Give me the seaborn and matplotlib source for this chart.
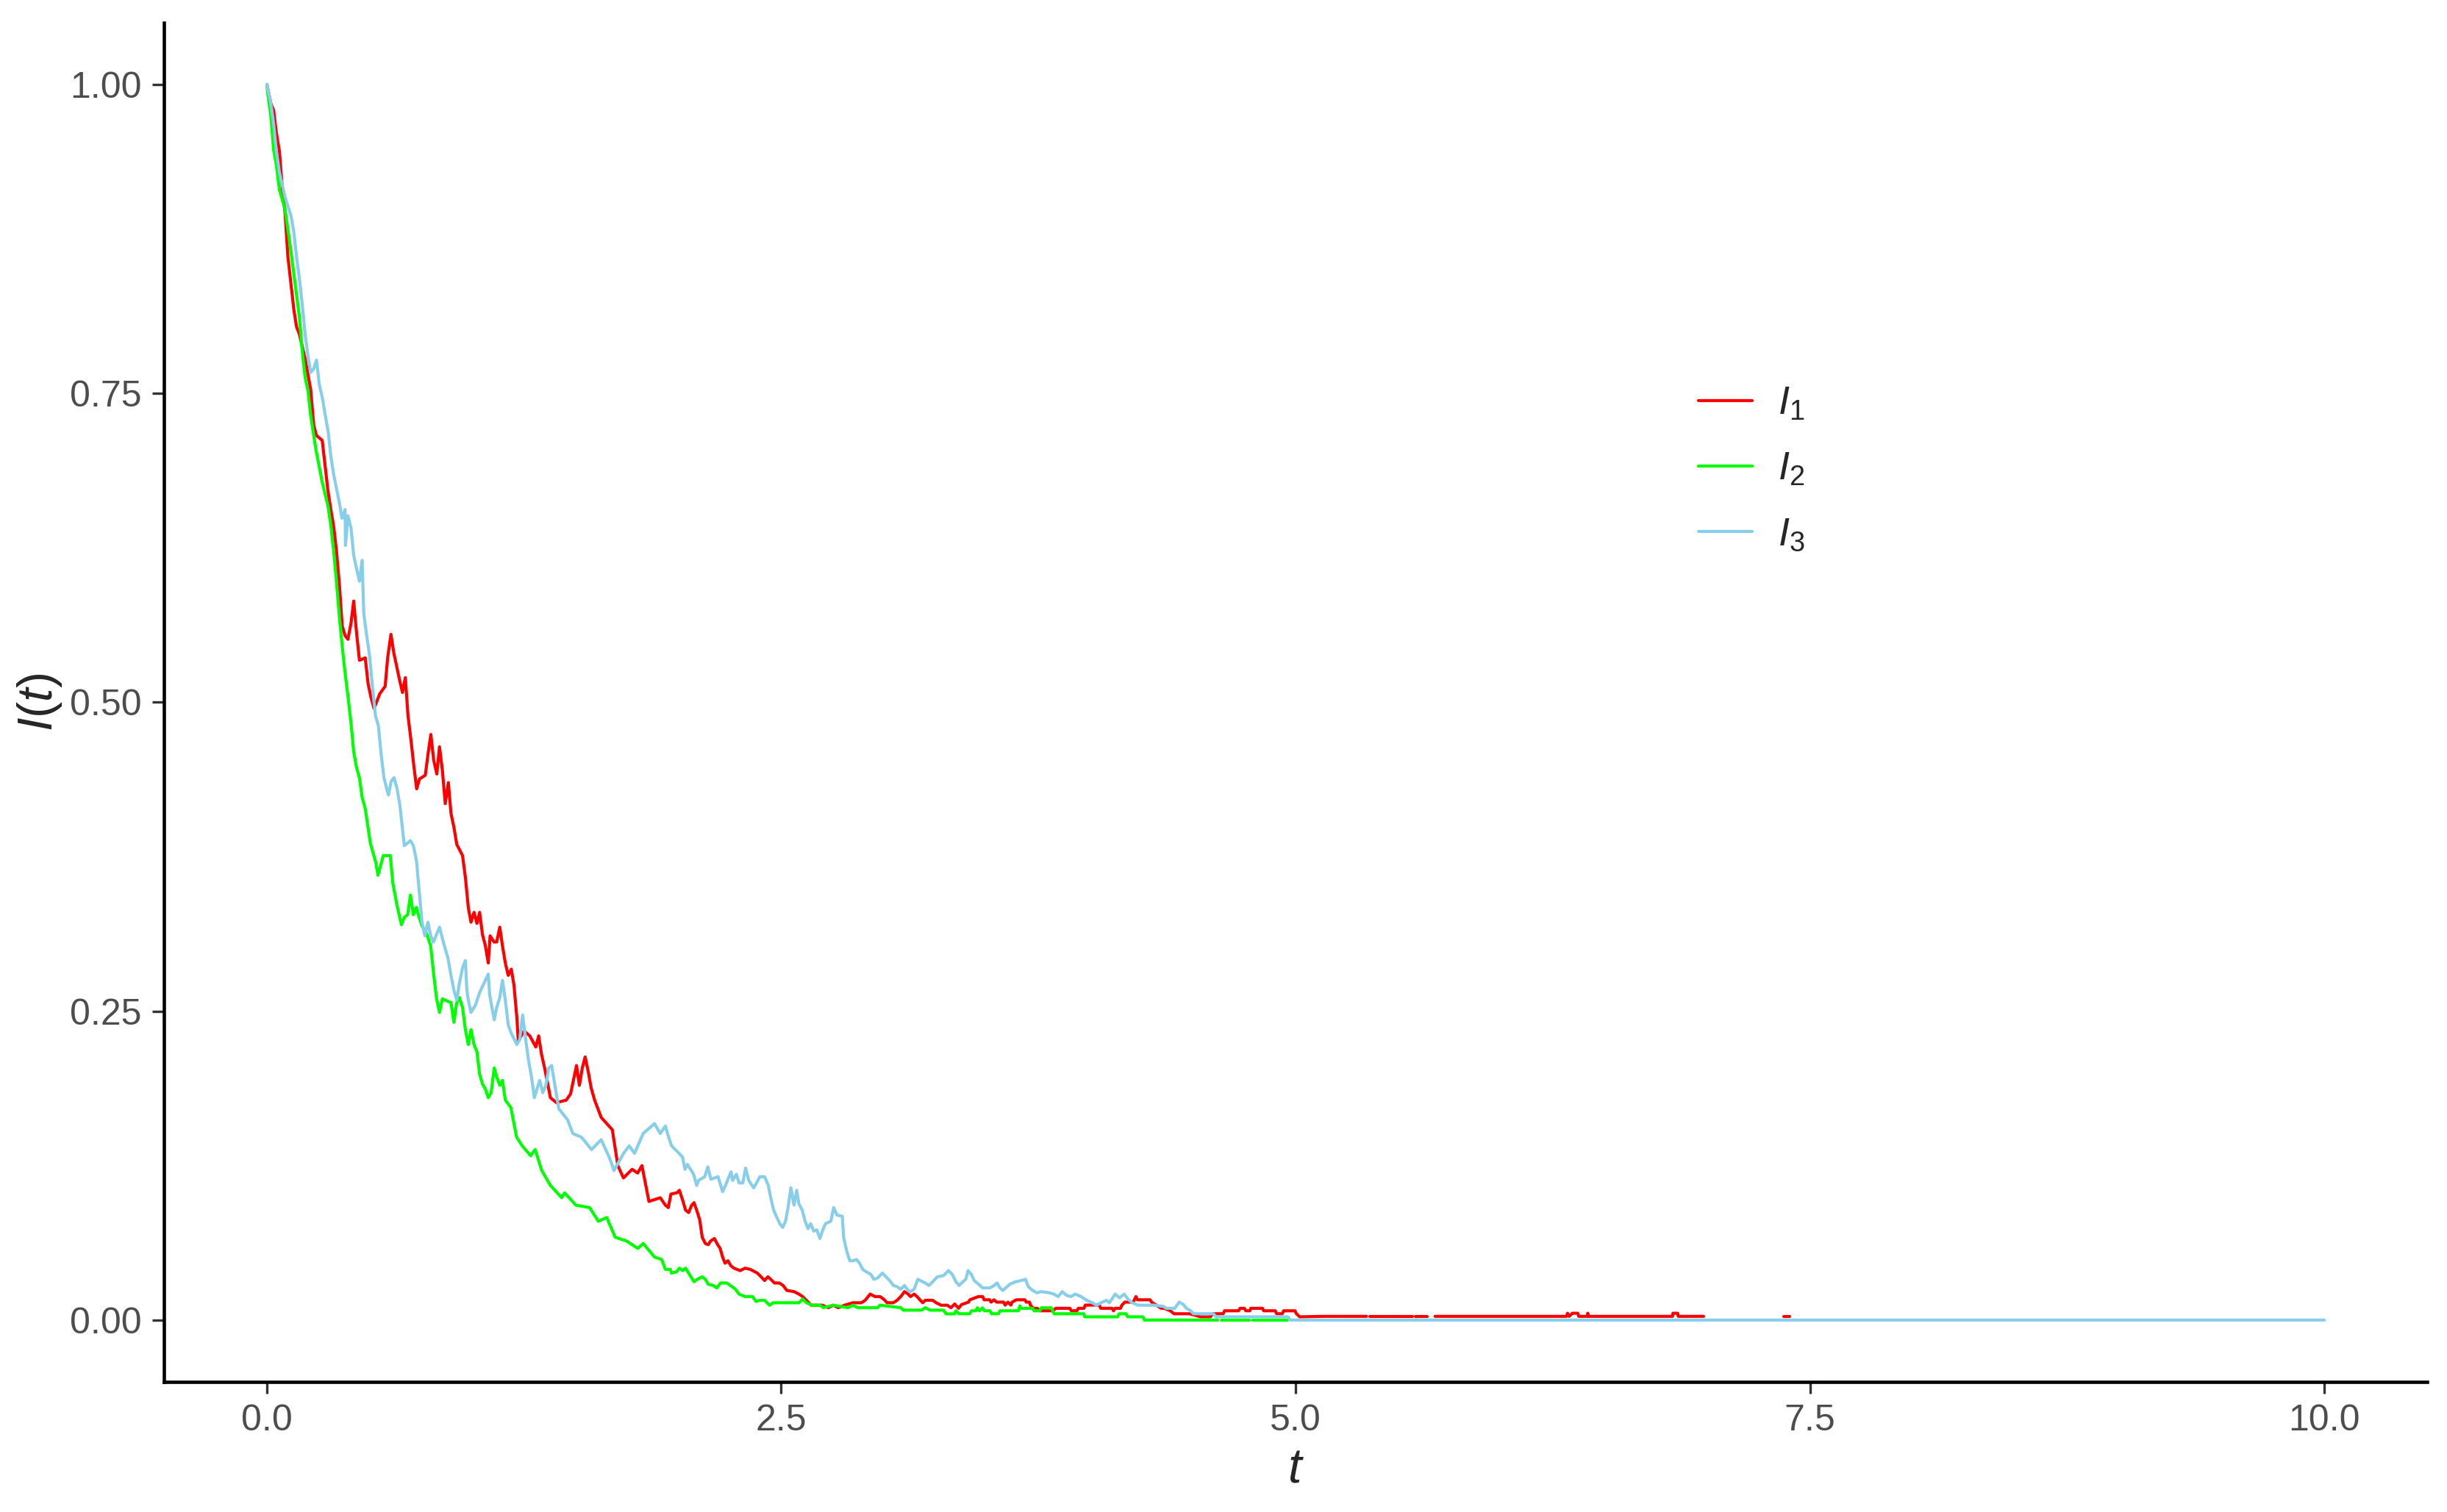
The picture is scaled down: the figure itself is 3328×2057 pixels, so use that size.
import numpy as np
import pandas as pd
import matplotlib
matplotlib.use("Agg")
import matplotlib.pyplot as plt
import seaborn as sns

# values (NaN = gap in the drawn line)
t_red = [0.000, 0.019, 0.033, 0.046, 0.061, 0.075, 0.088, 0.102, 0.117, 0.131, 0.144, 0.158, 0.186, 0.213,
         0.228, 0.241, 0.269, 0.282, 0.297, 0.311, 0.325, 0.338, 0.353, 0.366, 0.380, 0.394, 0.409, 0.422,
         0.436, 0.450, 0.478, 0.492, 0.506, 0.521, 0.549, 0.575, 0.587, 0.603, 0.617, 0.631, 0.645, 0.659,
         0.673, 0.686, 0.700, 0.714, 0.728, 0.742, 0.770, 0.784, 0.797, 0.811, 0.826, 0.839, 0.853, 0.867,
         0.882, 0.895, 0.909, 0.923, 0.951, 0.965, 0.979, 0.992, 1.007, 1.021, 1.034, 1.048, 1.062, 1.076,
         1.085, 1.104, 1.117, 1.132, 1.145, 1.159, 1.173, 1.188, 1.201, 1.215, 1.222, 1.250, 1.278, 1.307,
         1.321, 1.335, 1.350, 1.364, 1.378, 1.407, 1.455, 1.476, 1.490, 1.505, 1.519, 1.533, 1.547, 1.562,
         1.576, 1.593, 1.625, 1.679, 1.706, 1.733, 1.775, 1.802, 1.823, 1.857, 1.912, 1.937, 1.951, 1.964,
         1.993, 2.005, 2.021, 2.035, 2.050, 2.065, 2.076, 2.089, 2.104, 2.116, 2.131, 2.145, 2.157, 2.175,
         2.191, 2.203, 2.215, 2.227, 2.241, 2.255, 2.270, 2.300, 2.324, 2.350, 2.384, 2.402, 2.419, 2.435,
         2.449, 2.467, 2.491, 2.509, 2.527, 2.562, 2.586, 2.604, 2.622, 2.646, 2.700, 2.729, 2.753, 2.777,
         2.807, 2.848, 2.890, 2.908, 2.932, 2.956, 2.980, 2.997, 3.015, 3.045, 3.063, 3.081, 3.099, 3.117,
         3.128, 3.146, 3.160, 3.176, 3.188, 3.200, 3.236, 3.253, 3.277, 3.307, 3.325, 3.343, 3.362, 3.376,
         3.410, 3.417, 3.458, 3.479, 3.486, 3.513, 3.520, 3.534, 3.547, 3.581, 3.588, 3.602, 3.616, 3.622,
         3.643, 3.684, 3.691, 3.707, 3.711, 3.725, 3.745, 3.759, 3.800, 3.821, 3.834, 3.903, 3.910, 3.937,
         3.944, 3.971, 3.978, 4.046, 4.053, 4.108, 4.115, 4.122, 4.149, 4.156, 4.170, 4.211, 4.224, 4.231,
         4.293, 4.300, 4.347, 4.361, 4.391, 4.409, 4.484, 4.538, 4.586, 4.596, 4.648, 4.655, 4.723, 4.730,
         4.751, 4.758, 4.778, 4.782, 4.839, 4.845, 4.901, 4.908, 4.935, 4.942, 4.997, 5.004, 5.020, 5.136,
         5.345, 5.350, 5.361, 5.567, 5.575, 5.582, 5.638, 5.660, 5.678, 6.316, 6.322, 6.330, 6.345, 6.372,
         6.376, 6.418, 6.420, 6.424, 6.832, 6.834, 6.857, 6.860, 6.983, 7.200, 7.374, 7.401]
i_red = [1.000, 0.985, 0.979, 0.961, 0.946, 0.916, 0.897, 0.861, 0.839, 0.818, 0.804, 0.798, 0.778, 0.753,
         0.724, 0.716, 0.712, 0.693, 0.671, 0.656, 0.642, 0.623, 0.594, 0.562, 0.554, 0.551, 0.564, 0.582,
         0.556, 0.534, 0.536, 0.515, 0.504, 0.495, 0.507, 0.513, 0.536, 0.555, 0.540, 0.529, 0.518, 0.508,
         0.520, 0.489, 0.470, 0.449, 0.430, 0.438, 0.441, 0.459, 0.474, 0.453, 0.442, 0.464, 0.445, 0.418,
         0.435, 0.410, 0.399, 0.385, 0.376, 0.358, 0.334, 0.322, 0.330, 0.321, 0.330, 0.312, 0.303, 0.289,
         0.311, 0.306, 0.306, 0.318, 0.303, 0.289, 0.279, 0.284, 0.271, 0.245, 0.226, 0.234, 0.230, 0.221,
         0.230, 0.215, 0.204, 0.192, 0.180, 0.176, 0.178, 0.183, 0.194, 0.206, 0.190, 0.204, 0.213, 0.201,
         0.188, 0.178, 0.164, 0.154, 0.125, 0.115, 0.122, 0.119, 0.125, 0.096, 0.099, 0.093, 0.091, 0.102,
         0.103, 0.105, 0.097, 0.089, 0.087, 0.093, 0.095, 0.089, 0.081, 0.067, 0.062, 0.061, 0.064, 0.066,
         0.061, 0.058, 0.051, 0.046, 0.048, 0.044, 0.042, 0.040, 0.042, 0.041, 0.038, 0.035, 0.032, 0.035,
         0.033, 0.030, 0.030, 0.028, 0.024, 0.023, 0.021, 0.019, 0.016, 0.012, 0.012, 0.010, 0.012, 0.010,
         0.012, 0.014, 0.014, 0.016, 0.021, 0.019, 0.019, 0.017, 0.014, 0.014, 0.016, 0.019, 0.023, 0.021,
         0.019, 0.021, 0.019, 0.016, 0.014, 0.016, 0.016, 0.014, 0.012, 0.012, 0.010, 0.013, 0.0095, 0.0125,
         0.0145, 0.0164, 0.019, 0.019, 0.0164, 0.0164, 0.0145, 0.0164, 0.0145, 0.0145, 0.0121, 0.0145, 0.0121, 0.0145,
         0.0164, 0.0164, 0.0145, 0.0145, 0.0121, 0.0095, 0.0095, 0.0075, 0.0075, 0.0075, 0.0095, 0.0095, 0.0075, 0.0075,
         0.0095, 0.0095, 0.0121, 0.0121, 0.0095, 0.0095, 0.0075, 0.0095, 0.0095, 0.0121, 0.0145, 0.0145, 0.019, 0.0164,
         0.0164, 0.0145, 0.0095, 0.0095, 0.0075, 0.0051, 0.0051, 0.0026, 0.0026, 0.0051, 0.0051, 0.0075, 0.0075, 0.0095,
         0.0095, 0.0075, 0.0075, 0.0095, 0.0095, 0.0075, 0.0075, 0.0051, 0.0051, 0.0075, 0.0075, 0.0051, 0.0026, 0.003,
         0.003, np.nan, 0.003, 0.003, np.nan, 0.003, 0.003, np.nan, 0.003, 0.003, 0.0055, 0.003, 0.0055, 0.0055,
         0.003, 0.003, 0.0055, 0.003, 0.003, 0.0055, 0.0055, 0.003, 0.003, np.nan, 0.003, 0.003]

t_green = [0.000, 0.005, 0.019, 0.033, 0.046, 0.061, 0.088, 0.102, 0.117, 0.131, 0.144, 0.158, 0.172, 0.186,
           0.200, 0.213, 0.228, 0.239, 0.254, 0.268, 0.282, 0.297, 0.311, 0.325, 0.338, 0.353, 0.367, 0.380,
           0.394, 0.409, 0.422, 0.436, 0.450, 0.463, 0.478, 0.503, 0.530, 0.540, 0.566, 0.600, 0.612, 0.632,
           0.654, 0.668, 0.684, 0.698, 0.712, 0.727, 0.740, 0.754, 0.776, 0.796, 0.810, 0.824, 0.839, 0.853,
           0.880, 0.895, 0.909, 0.923, 0.936, 0.951, 0.965, 0.979, 0.992, 1.007, 1.021, 1.034, 1.048, 1.062,
           1.076, 1.090, 1.105, 1.117, 1.132, 1.145, 1.159, 1.186, 1.214, 1.241, 1.282, 1.304, 1.336, 1.378,
           1.433, 1.447, 1.502, 1.569, 1.611, 1.652, 1.693, 1.748, 1.803, 1.829, 1.884, 1.919, 1.937, 1.961,
           1.967, 1.991, 2.005, 2.021, 2.035, 2.050, 2.065, 2.076, 2.092, 2.116, 2.131, 2.145, 2.169, 2.187,
           2.205, 2.235, 2.253, 2.277, 2.295, 2.324, 2.360, 2.378, 2.396, 2.419, 2.443, 2.461, 2.586, 2.604,
           2.622, 2.652, 2.688, 2.705, 2.753, 2.825, 2.848, 2.872, 2.968, 2.980, 3.081, 3.093, 3.182, 3.200,
           3.224, 3.289, 3.301, 3.343, 3.349, 3.363, 3.416, 3.425, 3.446, 3.453, 3.463, 3.478, 3.487, 3.515,
           3.522, 3.556, 3.563, 3.653, 3.660, 3.666, 3.722, 3.729, 3.757, 3.764, 3.812, 3.819, 3.826, 3.971,
           3.975, 4.135, 4.142, 4.176, 4.183, 4.258, 4.265, 4.621, 4.630, 4.639, 4.775, 4.783, 4.792, 4.960]
i_green = [1.000, 0.992, 0.975, 0.947, 0.935, 0.915, 0.899, 0.883, 0.865, 0.847, 0.830, 0.812, 0.784, 0.763,
           0.752, 0.732, 0.716, 0.704, 0.691, 0.679, 0.669, 0.659, 0.643, 0.622, 0.598, 0.568, 0.544, 0.524,
           0.505, 0.483, 0.460, 0.447, 0.439, 0.423, 0.414, 0.386, 0.370, 0.360, 0.376, 0.376, 0.354, 0.336,
           0.320, 0.326, 0.328, 0.344, 0.328, 0.334, 0.326, 0.319, 0.313, 0.303, 0.281, 0.261, 0.249, 0.260,
           0.258, 0.257, 0.241, 0.257, 0.261, 0.253, 0.235, 0.223, 0.235, 0.223, 0.217, 0.199, 0.191, 0.187,
           0.180, 0.184, 0.204, 0.197, 0.190, 0.194, 0.178, 0.172, 0.148, 0.141, 0.133, 0.138, 0.121, 0.109,
           0.099, 0.103, 0.093, 0.091, 0.080, 0.083, 0.067, 0.064, 0.058, 0.062, 0.051, 0.049, 0.041, 0.041,
           0.038, 0.039, 0.042, 0.040, 0.042, 0.038, 0.034, 0.031, 0.033, 0.035, 0.033, 0.029, 0.028, 0.026,
           0.030, 0.030, 0.028, 0.025, 0.021, 0.019, 0.019, 0.015, 0.016, 0.016, 0.012, 0.014, 0.014, 0.017,
           0.014, 0.012, 0.012, 0.010, 0.012, 0.010, 0.012, 0.010, 0.010, 0.012, 0.010, 0.008, 0.008, 0.010,
           0.008, 0.008, 0.005, 0.005, 0.0075, 0.0051, 0.0051, 0.0075, 0.0075, 0.0099, 0.0075, 0.0099, 0.0075, 0.0075,
           0.0051, 0.0051, 0.0075, 0.0075, 0.0115, 0.0095, 0.0095, 0.0075, 0.0075, 0.0099, 0.0099, 0.0075, 0.0051, 0.0051,
           0.0026, 0.0026, 0.0051, 0.0051, 0.0026, 0.0026, 0.0, 0.0, np.nan, 0.0, 0.0, np.nan, 0.0, 0.0]

t_blue = [0.000, 0.019, 0.033, 0.046, 0.061, 0.088, 0.117, 0.131, 0.144, 0.158, 0.172, 0.186, 0.200, 0.213,
          0.228, 0.241, 0.255, 0.269, 0.283, 0.298, 0.311, 0.325, 0.353, 0.365, 0.380, 0.382, 0.394, 0.409,
          0.422, 0.436, 0.450, 0.463, 0.471, 0.485, 0.499, 0.513, 0.528, 0.542, 0.556, 0.569, 0.584, 0.591,
          0.604, 0.618, 0.633, 0.647, 0.668, 0.698, 0.712, 0.727, 0.740, 0.754, 0.768, 0.783, 0.796, 0.810,
          0.839, 0.853, 0.866, 0.880, 0.895, 0.909, 0.923, 0.936, 0.951, 0.965, 0.972, 0.979, 0.992, 1.014,
          1.034, 1.062, 1.076, 1.083, 1.105, 1.117, 1.132, 1.145, 1.159, 1.173, 1.188, 1.215, 1.229, 1.243,
          1.258, 1.272, 1.287, 1.300, 1.326, 1.341, 1.356, 1.370, 1.384, 1.398, 1.412, 1.419, 1.462, 1.487,
          1.529, 1.578, 1.625, 1.666, 1.687, 1.734, 1.761, 1.787, 1.829, 1.884, 1.912, 1.937, 1.949, 1.967,
          1.997, 2.020, 2.032, 2.044, 2.074, 2.089, 2.098, 2.128, 2.143, 2.158, 2.193, 2.215, 2.229, 2.256,
          2.264, 2.282, 2.295, 2.313, 2.327, 2.342, 2.366, 2.380, 2.396, 2.419, 2.437, 2.449, 2.463, 2.479,
          2.493, 2.507, 2.521, 2.533, 2.547, 2.562, 2.575, 2.586, 2.602, 2.616, 2.630, 2.643, 2.658, 2.673,
          2.688, 2.702, 2.715, 2.741, 2.755, 2.771, 2.797, 2.803, 2.818, 2.833, 2.848, 2.866, 2.881, 2.896,
          2.914, 2.935, 2.950, 2.968, 2.992, 3.009, 3.027, 3.045, 3.063, 3.081, 3.099, 3.117, 3.128, 3.146,
          3.164, 3.176, 3.200, 3.218, 3.236, 3.259, 3.289, 3.313, 3.331, 3.349, 3.365, 3.383, 3.397, 3.408,
          3.424, 3.438, 3.459, 3.479, 3.514, 3.535, 3.549, 3.563, 3.577, 3.591, 3.611, 3.639, 3.667, 3.687,
          3.701, 3.722, 3.743, 3.763, 3.804, 3.825, 3.846, 3.866, 3.887, 3.908, 3.929, 3.957, 3.985, 4.012,
          4.033, 4.054, 4.081, 4.095, 4.123, 4.144, 4.167, 4.185, 4.206, 4.234, 4.317, 4.358, 4.372, 4.413,
          4.434, 4.455, 4.469, 4.490, 4.504, 4.600, 4.614, 4.963, 4.974, 10.000]
i_blue = [1.000, 0.985, 0.968, 0.946, 0.929, 0.909, 0.894, 0.881, 0.861, 0.843, 0.822, 0.798, 0.780, 0.767,
          0.770, 0.777, 0.757, 0.747, 0.733, 0.719, 0.699, 0.684, 0.661, 0.649, 0.656, 0.627, 0.651, 0.641,
          0.619, 0.608, 0.598, 0.615, 0.572, 0.554, 0.538, 0.513, 0.489, 0.481, 0.457, 0.439, 0.429, 0.425,
          0.436, 0.439, 0.430, 0.416, 0.384, 0.388, 0.384, 0.372, 0.348, 0.322, 0.311, 0.322, 0.311, 0.306,
          0.318, 0.309, 0.301, 0.293, 0.279, 0.267, 0.259, 0.273, 0.285, 0.291, 0.267, 0.259, 0.249, 0.255,
          0.265, 0.275, 0.280, 0.263, 0.243, 0.253, 0.261, 0.275, 0.259, 0.239, 0.232, 0.223, 0.227, 0.247,
          0.227, 0.210, 0.196, 0.180, 0.194, 0.184, 0.190, 0.204, 0.206, 0.192, 0.178, 0.171, 0.162, 0.151,
          0.148, 0.138, 0.146, 0.131, 0.121, 0.135, 0.141, 0.135, 0.151, 0.159, 0.151, 0.157, 0.150, 0.141,
          0.136, 0.132, 0.122, 0.126, 0.118, 0.109, 0.113, 0.116, 0.124, 0.114, 0.116, 0.104, 0.109, 0.120,
          0.113, 0.118, 0.111, 0.111, 0.123, 0.113, 0.107, 0.111, 0.116, 0.116, 0.109, 0.099, 0.089, 0.083,
          0.078, 0.075, 0.080, 0.091, 0.107, 0.093, 0.105, 0.094, 0.089, 0.080, 0.074, 0.078, 0.072, 0.073,
          0.066, 0.073, 0.078, 0.080, 0.091, 0.085, 0.084, 0.067, 0.056, 0.048, 0.048, 0.049, 0.046, 0.041,
          0.039, 0.037, 0.033, 0.034, 0.038, 0.035, 0.032, 0.028, 0.027, 0.025, 0.028, 0.024, 0.023, 0.025,
          0.033, 0.032, 0.030, 0.028, 0.031, 0.035, 0.036, 0.040, 0.037, 0.031, 0.028, 0.031, 0.033, 0.040,
          0.037, 0.032, 0.029, 0.026, 0.026, 0.028, 0.030, 0.026, 0.024, 0.026, 0.029, 0.031, 0.032, 0.033,
          0.027, 0.024, 0.022, 0.023, 0.022, 0.021, 0.019, 0.023, 0.020, 0.019, 0.021, 0.019, 0.016, 0.014,
          0.012, 0.014, 0.016, 0.014, 0.021, 0.018, 0.021, 0.017, 0.014, 0.012, 0.012, 0.011, 0.0095, 0.0095,
          0.0145, 0.0125, 0.0095, 0.0075, 0.0051, 0.0051, 0.0026, 0.0026, 0.0, 0.0]

series_names = [r"$I_1$", r"$I_2$", r"$I_3$"]
colors = ["red", "#00FF00", "skyblue"]
x_ticks = [0.0, 2.5, 5.0, 7.5, 10.0]
y_ticks = [0.00, 0.25, 0.50, 0.75, 1.00]


def to_frame(name, t, v):
    v = np.asarray(v, dtype=float)
    seg = np.cumsum(np.isnan(v))
    d = pd.DataFrame({"t": t, "I": v, "series": name})
    d["unit"] = [name + str(s) for s in seg]
    return d.dropna()


df = pd.concat([to_frame(series_names[0], t_red, i_red),
                to_frame(series_names[1], t_green, i_green),
                to_frame(series_names[2], t_blue, i_blue)], ignore_index=True)

sns.set_style("ticks")
plt.rcParams["font.family"] = ["Liberation Sans", "DejaVu Sans"]
plt.rcParams["mathtext.fontset"] = "custom"
plt.rcParams["mathtext.rm"] = "Liberation Sans"
plt.rcParams["mathtext.it"] = "Liberation Sans:italic"

fig = plt.figure(figsize=(3329 / 300, 2057 / 300), dpi=300)
ax = fig.add_axes([0.067, 0.0861, 0.9246, 0.8988])

sns.lineplot(data=df, x="t", y="I", hue="series", hue_order=series_names, units="unit",
             estimator=None, sort=False, palette=dict(zip(series_names, colors)),
             linewidth=1.0, ax=ax)

ax.set_xlim(-0.5, 10.5)
ax.set_ylim(-0.05, 1.05)
ax.set_xticks(x_ticks)
ax.set_xticklabels([f"{x:.1f}" for x in x_ticks])
ax.set_yticks(y_ticks)
ax.set_yticklabels([f"{y:.2f}" for y in y_ticks])
ax.tick_params(axis="both", length=3.8, width=0.8, color="#333333",
               labelcolor="#4D4D4D", labelsize=12, pad=3.5)
ax.set_xlabel(r"$t$", fontsize=16, labelpad=3)
ax.set_ylabel(r"$I(t)$", fontsize=16, labelpad=2)

sns.despine(ax=ax)
for side in ["left", "bottom"]:
    ax.spines[side].set_linewidth(1.1)
    ax.spines[side].set_color("black")

handles, labels = ax.get_legend_handles_labels()
ax.legend(handles, labels, loc="upper left", bbox_to_anchor=(0.678, 0.733),
          frameon=False, fontsize=13, handlelength=1.35, handletextpad=0.65,
          labelspacing=0.72, borderpad=0, borderaxespad=0)

plt.savefig("out.png", dpi=300)
